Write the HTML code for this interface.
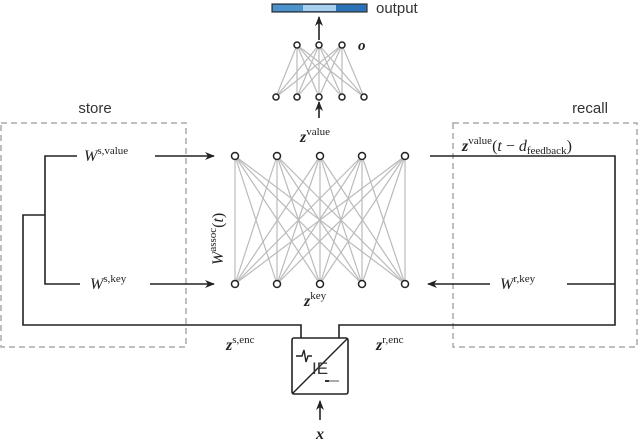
<!DOCTYPE html>
<html><head><meta charset="utf-8"><style>
body{margin:0;background:#fff}
svg{display:block}
.m{font-family:"Liberation Serif",serif;font-style:italic;fill:#222}
.s{font-family:"Liberation Serif",serif;font-style:normal;fill:#222}
.t{font-family:"Liberation Sans",sans-serif;fill:#333}
</style></head><body>
<svg width="640" height="441" viewBox="0 0 640 441" xmlns="http://www.w3.org/2000/svg">
<defs><marker id="a" markerWidth="10" markerHeight="8" refX="9" refY="4" orient="auto" markerUnits="userSpaceOnUse"><path d="M0,0 L10,4 L0,8 L3,4 Z" fill="#222"/></marker></defs>
<!-- output bar -->
<rect x="272" y="4" width="95" height="8" fill="#2a72b5" stroke="#333" stroke-width="1.2"/>
<rect x="273" y="5" width="30" height="6" fill="#4d92cc"/>
<rect x="303" y="5" width="33" height="6" fill="#a9cfee"/>
<text x="376" y="13" class="t" font-size="15">output</text>
<line x1="319" y1="40" x2="319" y2="17" stroke="#222" stroke-width="1.6" marker-end="url(#a)"/>
<!-- small net -->
<g stroke="#bbb" stroke-width="1.2">
<line x1="297" y1="45" x2="276" y2="97"/><line x1="297" y1="45" x2="297" y2="97"/><line x1="297" y1="45" x2="319" y2="97"/><line x1="297" y1="45" x2="342" y2="97"/><line x1="297" y1="45" x2="364" y2="97"/>
<line x1="319" y1="45" x2="276" y2="97"/><line x1="319" y1="45" x2="297" y2="97"/><line x1="319" y1="45" x2="319" y2="97"/><line x1="319" y1="45" x2="342" y2="97"/><line x1="319" y1="45" x2="364" y2="97"/>
<line x1="342" y1="45" x2="276" y2="97"/><line x1="342" y1="45" x2="297" y2="97"/><line x1="342" y1="45" x2="319" y2="97"/><line x1="342" y1="45" x2="342" y2="97"/><line x1="342" y1="45" x2="364" y2="97"/>
</g>
<g fill="#fff" stroke="#222" stroke-width="1.5">
<circle cx="297" cy="45" r="3"/><circle cx="319" cy="45" r="3"/><circle cx="342" cy="45" r="3"/>
<circle cx="276" cy="97" r="3"/><circle cx="297" cy="97" r="3"/><circle cx="319" cy="97" r="3"/><circle cx="342" cy="97" r="3"/><circle cx="364" cy="97" r="3"/>
</g>
<text x="358" y="50" class="m" font-size="15" font-weight="bold">o</text>
<line x1="319" y1="118" x2="319" y2="102" stroke="#222" stroke-width="1.6" marker-end="url(#a)"/>
<text x="300" y="142" class="m" font-size="16" font-weight="bold">z<tspan class="s" font-size="11" dy="-7" font-weight="normal">value</tspan></text>
<!-- big net -->
<g stroke="#bbb" stroke-width="1.2" id="bn">
<line x1="235" y1="156" x2="235" y2="284"/><line x1="235" y1="156" x2="277" y2="284"/><line x1="235" y1="156" x2="320" y2="284"/><line x1="235" y1="156" x2="362" y2="284"/><line x1="235" y1="156" x2="405" y2="284"/>
<line x1="277" y1="156" x2="235" y2="284"/><line x1="277" y1="156" x2="277" y2="284"/><line x1="277" y1="156" x2="320" y2="284"/><line x1="277" y1="156" x2="362" y2="284"/><line x1="277" y1="156" x2="405" y2="284"/>
<line x1="320" y1="156" x2="235" y2="284"/><line x1="320" y1="156" x2="277" y2="284"/><line x1="320" y1="156" x2="320" y2="284"/><line x1="320" y1="156" x2="362" y2="284"/><line x1="320" y1="156" x2="405" y2="284"/>
<line x1="362" y1="156" x2="235" y2="284"/><line x1="362" y1="156" x2="277" y2="284"/><line x1="362" y1="156" x2="320" y2="284"/><line x1="362" y1="156" x2="362" y2="284"/><line x1="362" y1="156" x2="405" y2="284"/>
<line x1="405" y1="156" x2="235" y2="284"/><line x1="405" y1="156" x2="277" y2="284"/><line x1="405" y1="156" x2="320" y2="284"/><line x1="405" y1="156" x2="362" y2="284"/><line x1="405" y1="156" x2="405" y2="284"/>
</g>
<g fill="#fff" stroke="#222" stroke-width="1.5">
<circle cx="235" cy="156" r="3.5"/><circle cx="277" cy="156" r="3.5"/><circle cx="320" cy="156" r="3.5"/><circle cx="362" cy="156" r="3.5"/><circle cx="405" cy="156" r="3.5"/>
<circle cx="235" cy="284" r="3.5"/><circle cx="277" cy="284" r="3.5"/><circle cx="320" cy="284" r="3.5"/><circle cx="362" cy="284" r="3.5"/><circle cx="405" cy="284" r="3.5"/>
</g>
<text transform="translate(223,265) rotate(-90)" class="m" font-size="16">W<tspan class="s" font-size="11" dy="-7">assoc</tspan><tspan class="s" font-size="16" dy="7">(</tspan>t<tspan class="s">)</tspan></text>
<text x="304" y="306" class="m" font-size="16" font-weight="bold">z<tspan class="s" font-size="11" dy="-7" font-weight="normal">key</tspan></text>
<!-- boxes -->
<rect x="1" y="123" width="185" height="224" fill="none" stroke="#aaa" stroke-width="1.5" stroke-dasharray="6,4"/>
<rect x="453" y="123" width="184" height="224" fill="none" stroke="#aaa" stroke-width="1.5" stroke-dasharray="6,4"/>
<text x="95" y="113" class="t" font-size="15" text-anchor="middle">store</text>
<text x="590" y="113" class="t" font-size="15" text-anchor="middle">recall</text>
<!-- left connectors -->
<g stroke="#222" stroke-width="1.6" fill="none">
<path d="M77,156 H45 V284 H80"/>
<path d="M45,215 H23 V325 H301 V338"/>
<line x1="155" y1="156" x2="214" y2="156" marker-end="url(#a)"/>
<line x1="150" y1="284" x2="214" y2="284" marker-end="url(#a)"/>
<path d="M430,156 H615 V325 H339 V338"/>
<line x1="615" y1="284" x2="567" y2="284"/>
<line x1="490" y1="284" x2="428" y2="284" marker-end="url(#a)"/>
<line x1="320" y1="420" x2="320" y2="401" marker-end="url(#a)"/>
</g>
<text x="84" y="161" class="m" font-size="16">W<tspan class="s" font-size="11" dy="-7">s,value</tspan></text>
<text x="90" y="289" class="m" font-size="16">W<tspan class="s" font-size="11" dy="-7">s,key</tspan></text>
<text x="500" y="289" class="m" font-size="16">W<tspan class="s" font-size="11" dy="-7">r,key</tspan></text>
<text x="462" y="151" class="m" font-size="16" font-weight="bold">z<tspan class="s" font-size="11" dy="-7" font-weight="normal">value</tspan><tspan class="s" font-size="16" dy="7" font-weight="normal">(</tspan><tspan font-weight="normal">t</tspan><tspan class="s" font-weight="normal"> − </tspan><tspan font-weight="normal">d</tspan><tspan class="s" font-size="11" dy="3" font-weight="normal">feedback</tspan><tspan class="s" font-size="16" dy="-3" font-weight="normal">)</tspan></text>
<text x="226" y="350" class="m" font-size="16" font-weight="bold">z<tspan class="s" font-size="11" dy="-7" font-weight="normal">s,enc</tspan></text>
<text x="376" y="350" class="m" font-size="16" font-weight="bold">z<tspan class="s" font-size="11" dy="-7" font-weight="normal">r,enc</tspan></text>
<!-- IE box -->
<rect x="292" y="338" width="56" height="56" rx="2" fill="#fff" stroke="#222" stroke-width="1.6"/>
<line x1="293" y1="393" x2="347" y2="339" stroke="#222" stroke-width="1.4"/>
<path d="M296,356 H302 L304,350 L306,362 L308,356 H312" stroke="#222" stroke-width="1.4" fill="none"/>
<text x="312" y="374" class="t" font-size="17" fill="#333">IE</text>
<rect x="325" y="380" width="4" height="2" fill="#333"/><rect x="329" y="380" width="10" height="2" fill="#aaa"/>
<text x="320" y="439" class="m" font-size="16" font-weight="bold" text-anchor="middle">x</text>
</svg>
</body></html>
